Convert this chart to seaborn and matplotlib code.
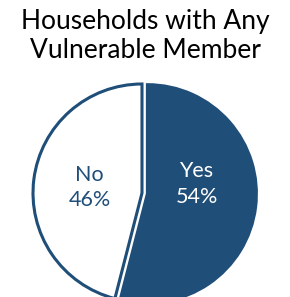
import matplotlib
matplotlib.use("Agg")
import matplotlib.pyplot as plt
import seaborn as sns

labels = ["Yes", "No"]
values = [54, 46]
title = "Households with Any\nVulnerable Member"

sns.set_theme(style="white")
plt.rcParams['font.family'] = ['Lato', 'DejaVu Sans']

blue = "#1F4E79"
fig = plt.figure(figsize=(2.9, 2.97), dpi=100)
ax = fig.add_axes([0, 0, 1, 1])
wedges, _ = ax.pie(values, startangle=90, counterclock=False,
                   colors=[blue, "white"], explode=[0.05, 0],
                   wedgeprops=dict(edgecolor=blue, linewidth=2.2))
ax.set_aspect('auto')
R = 109.0
cx, cy = 142.0, 193.0
ax.set_xlim(-cx / R, (290 - cx) / R)
ax.set_ylim((cy - 297) / R, cy / R)
ax.axis('off')

ax.text(0.50, 0.08, f"{labels[0]}\n{values[0]}%", color="white", ha="center", va="center",
        fontsize=15.5, linespacing=1.35)
ax.text(-0.48, 0.05, f"{labels[1]}\n{values[1]}%", color=blue, ha="center", va="center",
        fontsize=15.5, linespacing=1.35)

fig.text(0.5, 1 - 36 / 297, title, ha="center", va="center", fontsize=19,
         color="black", linespacing=1.25)
fig.savefig("out.png", dpi=100)
